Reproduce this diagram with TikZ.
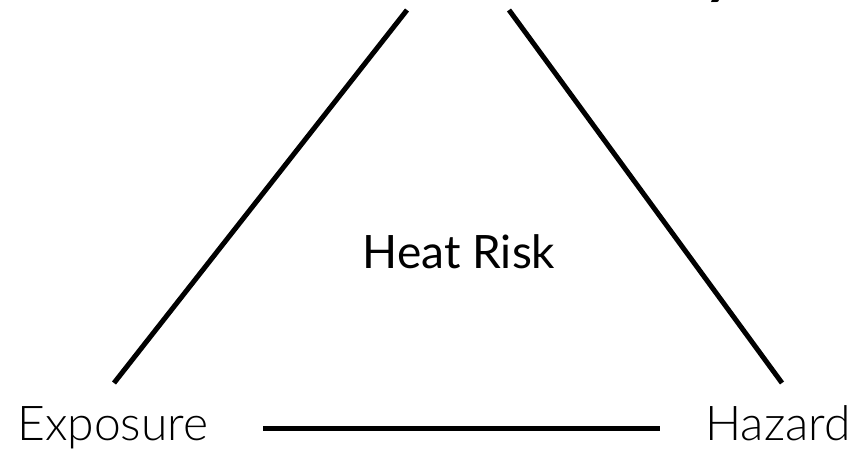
\documentclass[tikz,border=0pt]{standalone}
\usepackage{fontspec}
\setmainfont{Lato}
\newfontfamily\lightfont{Lato Light}
\begin{document}
\begin{tikzpicture}[x=1pt,y=-1pt,
  edge/.style={line width=5pt},
  lbl/.style={inner sep=0pt,font=\lightfont\fontsize{48}{56}\selectfont},
  ctr/.style={inner sep=0pt,font=\fontsize{46}{54}\selectfont}]
\useasboundingbox (0,0) rectangle (864,455);
\begin{scope}
\clip (0,0) rectangle (864,455);
\node[inner sep=0pt,anchor=base east,font=\bfseries\fontsize{60}{70}\selectfont] (vul) at (736,-8) {Vulnerability};
\end{scope}
\coordinate (lt) at (407,10);
\coordinate (lb) at (114,383);
\coordinate (rt) at (509,10);
\coordinate (rb) at (782,383);
\coordinate (bl) at (263,428);
\coordinate (br) at (660,428);
\draw[edge] (lt) -- (lb);
\draw[edge] (rt) -- (rb);
\draw[edge] (bl) -- (br);
\node[lbl,anchor=base west] (exp) at (17,440) {Exposure};
\node[lbl,anchor=base east] (haz) at (851,440) {Hazard};
\node[ctr,anchor=base] (risk) at (459,268) {Heat Risk};
\end{tikzpicture}
\end{document}
